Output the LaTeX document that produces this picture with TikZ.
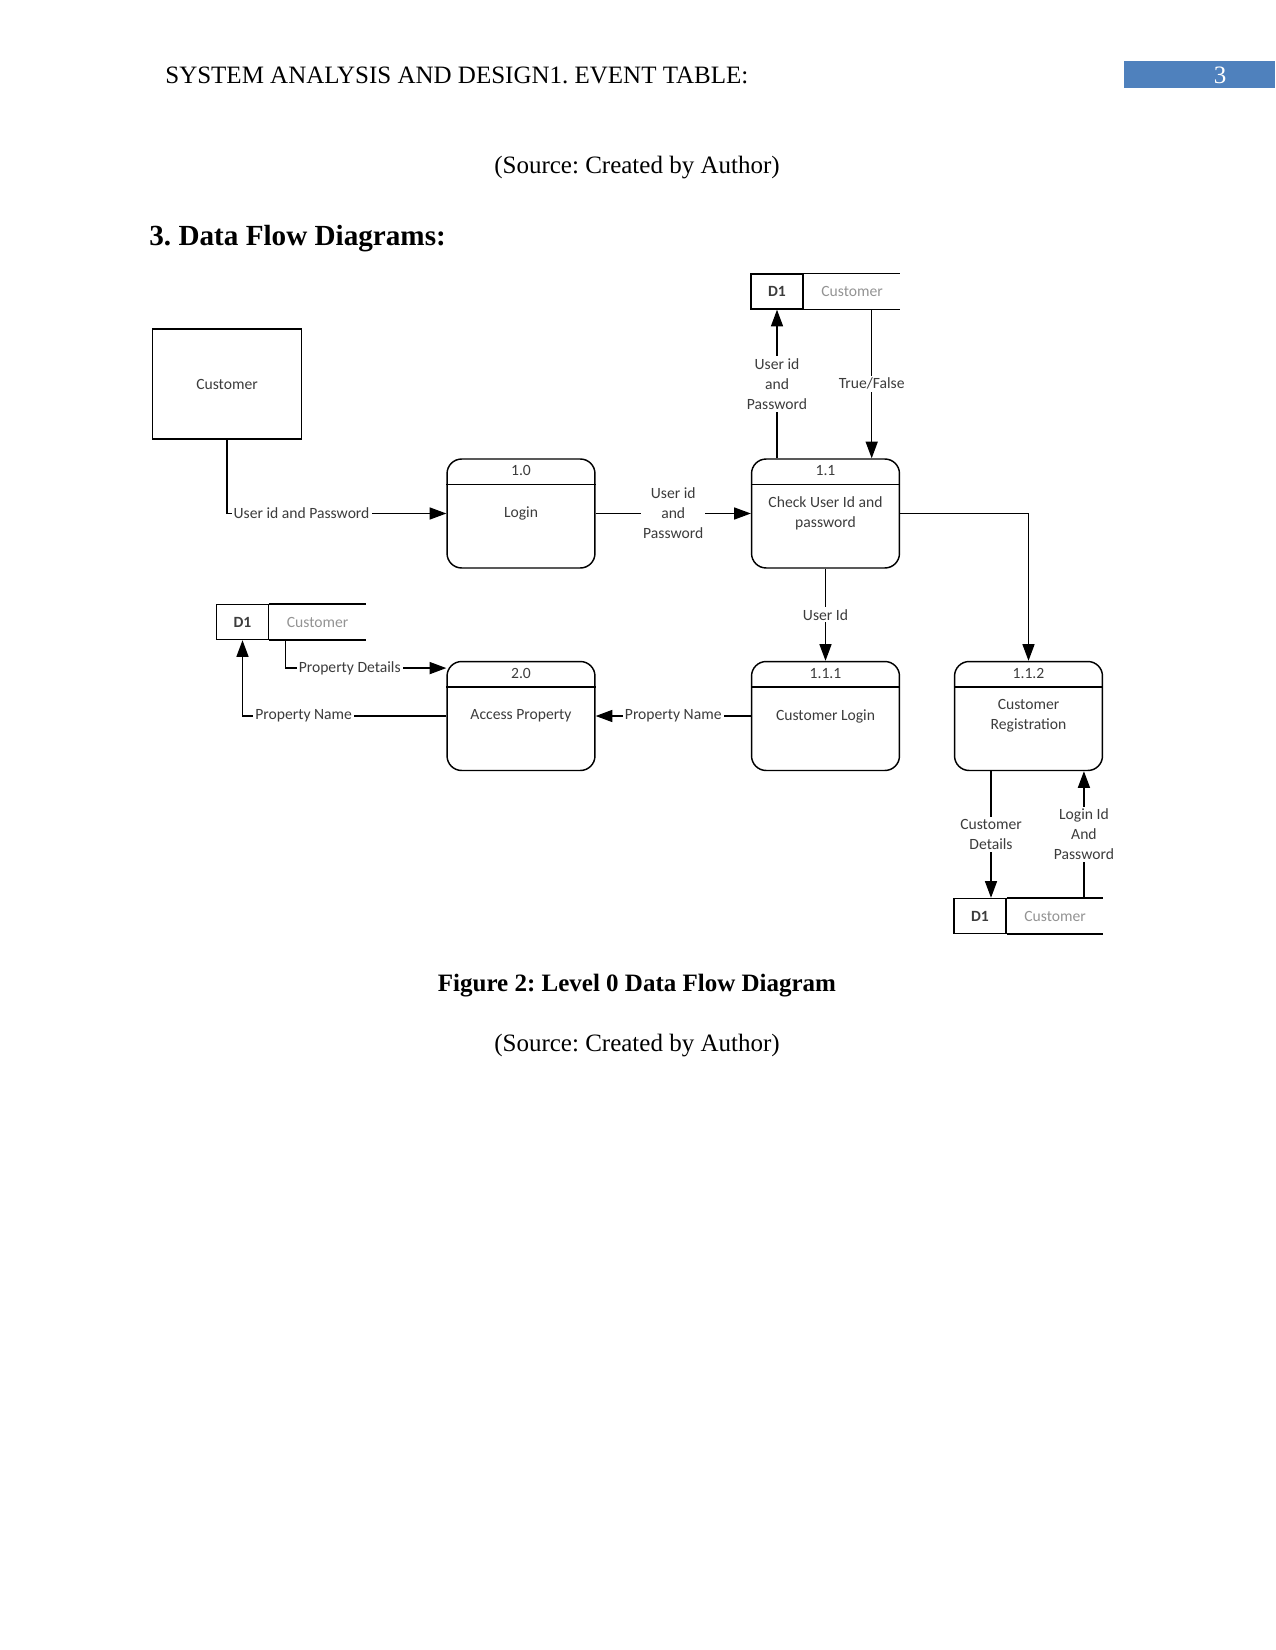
\documentclass[tikz,border=0pt]{standalone}
\usepackage{fontspec}
\setmainfont{Liberation Serif}
\newfontfamily\dfdfont{Carlito}
\usepackage{xcolor}
\usetikzlibrary{calc,arrows.meta,positioning}
\definecolor{hdrblue}{RGB}{79,129,189}
\definecolor{dfdtext}{RGB}{60,60,60}
\frenchspacing

\begin{document}
\begin{tikzpicture}[
  x=0.48pt, y=-0.48pt,
  dfd/.style={font=\dfdfont\fontsize{7.5}{9.6}\selectfont, text=dfdtext},
  ent/.style={dfd, draw, line width=0.7pt, minimum width=71.3pt, minimum height=52.8pt},
  proc/.style={dfd, draw, line width=0.7pt, rounded corners=7pt, minimum width=71pt, minimum height=52.3pt, align=center},
  num/.style={dfd, inner sep=0pt},
  storeid/.style={dfd, draw, line width=0.7pt, minimum width=25pt, minimum height=16.8pt, inner sep=0pt, font=\dfdfont\bfseries\fontsize{7.5}{9.6}\selectfont},
  storename/.style={dfd, minimum width=46pt, minimum height=16.8pt, inner sep=0pt, text=gray!85},
  lbl/.style={dfd, fill=white, align=center, inner sep=1pt},
  arr/.style={-{Triangle[length=8pt,width=5.8pt]}, line width=0.6pt}
]
\useasboundingbox (0,0) rectangle (1275,1650);
% page head
\node[anchor=west, font=\fontsize{12}{14}\selectfont] (hdr) at (158,75) {SYSTEM ANALYSIS AND DESIGN1. EVENT TABLE:};
\node[fill=hdrblue, minimum width=72.5pt, minimum height=13pt, anchor=north west, inner sep=0pt] (pgbox) at (1124,61) {};
\node[text=white, font=\fontsize{12}{14}\selectfont] (pgnum) at (1220,75) {3};
\node[font=\fontsize{12}{14}\selectfont] (src1) at (637,168) {(Source: Created by Author)};
\node[anchor=west, font=\bfseries\fontsize{14}{16}\selectfont] (sec) at (142,239) {3. Data Flow Diagrams:};

\node[ent] (cust) at (227,384) {Customer};
\node[proc] (login) at (521,513.5) {Login};
\node[proc] (check) at (825.5,513.5) {Check User Id and\\password};
\node[proc] (access) at (521,716) {Access Property};
\node[proc] (custlogin) at (825.5,716) {Customer Login};
\node[proc] (custreg) at (1028.5,716) {Customer\\Registration};
\foreach \p/\n in {login/1.0,check/1.1,access/2.0,custlogin/1.1.1,custreg/1.1.2} {
  \draw[line width=0.7pt] ([yshift=-12.5pt]\p.north west) -- ([yshift=-12.5pt]\p.north east);
  \node[num] (\p-num) at ([yshift=-6pt]\p.north) {\n};
}
% data stores
\node[storeid] (d1a) at (777,291.5) {D1};
\node[storename, right=0pt of d1a] (d1a-name) {Customer};
\node[storeid] (d1b) at (242.5,622) {D1};
\node[storename, right=0pt of d1b] (d1b-name) {Customer};
\node[storeid] (d1c) at (980,916) {D1};
\node[storename, right=0pt of d1c] (d1c-name) {Customer};
\foreach \s in {d1a,d1b,d1c}
  \draw[line width=0.7pt] (\s-name.north west) -- (\s-name.north east) (\s-name.south west) -- (\s-name.south east);

% flows
\draw[arr] (cust.south) |- (login.west) node[lbl, pos=0.67] {User id and Password};
\draw[arr] (login) -- (check) node[lbl, midway] {User id\\and\\Password};
\draw[arr] (check.north -| d1a.south) -- (d1a.south) node[lbl, midway] {User id\\and\\Password};
\draw[arr] ([xshift=9.4pt]d1a-name.south) -- ([xshift=9.4pt]d1a-name.south |- check.north) node[lbl, midway] {True/False};
\draw[arr] (check) -- (custlogin) node[lbl, midway] {User Id};
\draw[arr] (check.east) -| (custreg.north);
\draw[arr] ([xshift=-18pt]custreg.south) -- ([xshift=-18pt]custreg.south |- d1c.north) node[lbl, midway] {Customer\\Details};
\draw[arr] ([xshift=26.6pt]custreg.south |- d1c.north) -- ([xshift=26.6pt]custreg.south) node[lbl, midway] {Login Id\\And\\Password};
\draw[arr] (custlogin) -- (access) node[lbl, midway] {Property Name};
\draw[arr] ([xshift=7.7pt]d1b-name.south west) |- ([yshift=23pt]access.west) node[lbl, pos=0.70] {Property Details};
\draw[arr] (access.west) -| (d1b.south) node[lbl, pos=0.35] {Property Name};

\node[font=\bfseries\fontsize{12}{14}\selectfont] (cap) at (637,986) {Figure 2: Level 0 Data Flow Diagram};
\node[font=\fontsize{12}{14}\selectfont] (src2) at (637,1046) {(Source: Created by Author)};
\end{tikzpicture}
\end{document}
